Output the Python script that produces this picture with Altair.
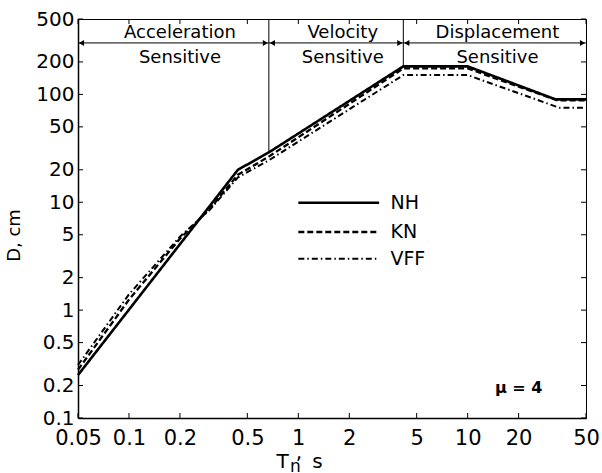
import altair as alt
import pandas as pd

# ---- data ----
SERIES = ["NH", "KN", "VFF"]
T_NH = [0.05, 0.44, 0.67, 4.17, 10, 33, 50]
D_NH = [0.25, 20, 29, 182, 182, 90, 90]
T_KN = [0.05, 0.1, 0.2, 0.3, 0.44, 0.67, 4.17, 10, 34, 50]
D_KN = [0.28, 1.25, 4.6, 8.7, 18, 26.5, 174, 174, 88, 88]
T_VFF = [0.05, 0.1, 0.2, 0.3, 0.44, 0.67, 4.17, 10, 35, 50]
D_VFF = [0.31, 1.4, 4.8, 8.5, 17, 24.5, 151, 151, 75, 75]

BOUNDS = [0.67, 4.17]          # region boundaries (s)
BOUND_D = [29, 182]            # NH value where boundary line stops
REGION_T = [0.2, 1.83, 15]
REGION_TOP = ["Acceleration", "Velocity", "Displacement"]
REGION_BOTTOM = ["Sensitive", "Sensitive", "Sensitive"]
X_TICKS = [0.05, 0.1, 0.2, 0.5, 1, 2, 5, 10, 20, 50]
Y_TICKS = [0.1, 0.2, 0.5, 1, 2, 5, 10, 20, 50, 100, 200, 500]

# ---- layout constants ----
W, H = 508, 399
FONT = "DejaVu Sans"
X_DOM = [0.05, 50]
Y_DOM = [0.1, 500]
ARROW_D = 300
TOP_TEXT_D = 331
BOT_TEXT_D = 194
LEG_T0, LEG_T1, LEG_TL = 1.0, 3.0, 3.5
LEG_D = [9.9, 5.3, 3.0]

rows = []
for s, Ts, Ds in zip(SERIES, [T_NH, T_KN, T_VFF], [D_NH, D_KN, D_VFF]):
    for i, (t, d) in enumerate(zip(Ts, Ds)):
        rows.append({"series": s, "T": t, "D": d, "i": i})
df = pd.DataFrame(rows)

xs = alt.Scale(type="log", domain=X_DOM, nice=False)
ys = alt.Scale(type="log", domain=Y_DOM, nice=False)

xaxis = alt.Axis(values=X_TICKS, format="~g", tickSize=0, labelPadding=9,
                 labelFont=FONT, labelFontSize=21, labelColor="black",
                 domainColor="black", domainWidth=1.5, grid=False,
                 labelOverlap=False, labelFlush=False, title=None)
yaxis = alt.Axis(values=Y_TICKS, format="~g", tickSize=0, labelPadding=4,
                 labelFont=FONT, labelFontSize=20, labelColor="black",
                 domainColor="black", domainWidth=1.5, grid=False,
                 labelOverlap=False, labelFlush=False,
                 title="D, cm", titleFont=FONT, titleFontSize=18,
                 titleFontWeight="normal", titleColor="black",
                 titleX=-55, titleY=216)


def X(field):
    return alt.X(field, scale=xs, axis=xaxis)


def Y(field):
    return alt.Y(field, scale=ys, axis=yaxis)


dash_scale = alt.Scale(domain=SERIES, range=[[1, 0], [6, 3], [6, 3, 1.5, 3]])
width_scale = alt.Scale(domain=SERIES, range=[2.6, 2, 2])

lines = alt.Chart(df).mark_line(color="black").encode(
    x=X("T:Q"),
    y=Y("D:Q"),
    detail="series:N",
    order="i:Q",
    strokeDash=alt.StrokeDash("series:N", scale=dash_scale, legend=None),
    strokeWidth=alt.StrokeWidth("series:N", scale=width_scale, legend=None),
)

# region boundary lines
bdf = pd.DataFrame({"T": BOUNDS, "D": BOUND_D, "top": [Y_DOM[1]] * len(BOUNDS)})
brules = alt.Chart(bdf).mark_rule(color="black", strokeWidth=1).encode(
    x=X("T:Q"), y=Y("top:Q"), y2="D:Q",
)

# arrow line
adf = pd.DataFrame({"T0": [X_DOM[0]], "T1": [X_DOM[1]], "D": [ARROW_D]})
arrow_line = alt.Chart(adf).mark_rule(color="black", strokeWidth=1).encode(
    x=X("T0:Q"), x2="T1:Q", y=Y("D:Q"),
)
edges = [X_DOM[0]] + BOUNDS + [X_DOM[1]]
left_df = pd.DataFrame({"T": edges[:-1], "D": [ARROW_D] * 3})
right_df = pd.DataFrame({"T": edges[1:], "D": [ARROW_D] * 3})
left_heads = alt.Chart(left_df).mark_point(shape="triangle-left", filled=True, color="black",
                                            size=35, opacity=1, xOffset=3.5).encode(
    x=X("T:Q"), y=Y("D:Q"))
right_heads = alt.Chart(right_df).mark_point(shape="triangle-right", filled=True, color="black",
                                              size=35, opacity=1, xOffset=-3.5).encode(
    x=X("T:Q"), y=Y("D:Q"))

rdf = pd.DataFrame({"T": REGION_T, "top": REGION_TOP, "bot": REGION_BOTTOM,
                    "D1": [TOP_TEXT_D] * 3, "D2": [BOT_TEXT_D] * 3})
top_txt = alt.Chart(rdf).mark_text(font=FONT, fontSize=18, align="center", baseline="alphabetic",
                                   color="black").encode(
    x=X("T:Q"), y=Y("D1:Q"), text="top:N")
bot_txt = alt.Chart(rdf).mark_text(font=FONT, fontSize=18, align="center", baseline="alphabetic",
                                   color="black").encode(
    x=X("T:Q"), y=Y("D2:Q"), text="bot:N")

# inward ticks on all four sides
xt = pd.DataFrame({"T": X_TICKS})
yt = pd.DataFrame({"D": Y_TICKS})
tb = alt.Chart(xt).mark_rule(color="black", strokeWidth=1).encode(
    x=X("T:Q"), y=alt.value(H), y2=alt.value(H - 5))
tt = alt.Chart(xt).mark_rule(color="black", strokeWidth=1).encode(
    x=X("T:Q"), y=alt.value(0), y2=alt.value(5))
tl = alt.Chart(yt).mark_rule(color="black", strokeWidth=1).encode(
    y=Y("D:Q"), x=alt.value(0), x2=alt.value(5))
tr = alt.Chart(yt).mark_rule(color="black", strokeWidth=1).encode(
    y=Y("D:Q"), x=alt.value(W), x2=alt.value(W - 5))

# legend (manual, placed in data space)
ldf = pd.DataFrame({"series": SERIES, "D": LEG_D, "T0": [LEG_T0] * 3,
                    "T1": [LEG_T1] * 3, "TL": [LEG_TL] * 3})
leg_lines = alt.Chart(ldf).mark_rule(color="black").encode(
    x=X("T0:Q"), x2="T1:Q", y=Y("D:Q"),
    strokeDash=alt.StrokeDash("series:N", scale=dash_scale, legend=None),
    strokeWidth=alt.StrokeWidth("series:N", scale=width_scale, legend=None),
)
leg_text = alt.Chart(ldf).mark_text(font=FONT, fontSize=19, align="left", baseline="middle",
                                    color="black").encode(
    x=X("TL:Q"), y=Y("D:Q"), text="series:N")

# mu annotation
mdf = pd.DataFrame({"T": [20], "D": [0.19], "t": ["\u03bc = 4"]})
mu = alt.Chart(mdf).mark_text(font=FONT, fontSize=16, fontWeight="bold", align="center",
                              baseline="middle", color="black").encode(
    x=X("T:Q"), y=Y("D:Q"), text="t:N")

# x axis title  T_n, s  (pieces placed relative to the plot area)
one = pd.DataFrame({"a": [0]})


def piece(txt, px, py, fs):
    return alt.Chart(one).mark_text(text=txt, font=FONT, fontSize=fs, align="center",
                                    baseline="alphabetic", color="black").encode(
        x=alt.value(px), y=alt.value(py))


xtitle = [piece("T", 204.5, 449, 20), piece("n", 217.5, 453, 17),
          piece(",", 221, 440, 20), piece("s", 239.5, 449, 20)]

chart = alt.layer(
    lines, brules, arrow_line, left_heads, right_heads, top_txt, bot_txt,
    tb, tt, tl, tr, leg_lines, leg_text, mu, *xtitle
).properties(
    width=W, height=H,
    autosize=alt.AutoSizeParams(type="none"),
    padding={"left": 78, "top": 19, "right": 16, "bottom": 55},
    background="white",
).configure_view(stroke="black", strokeWidth=1)

chart.save("out.html", embed_options={"renderer": "svg", "actions": False})
